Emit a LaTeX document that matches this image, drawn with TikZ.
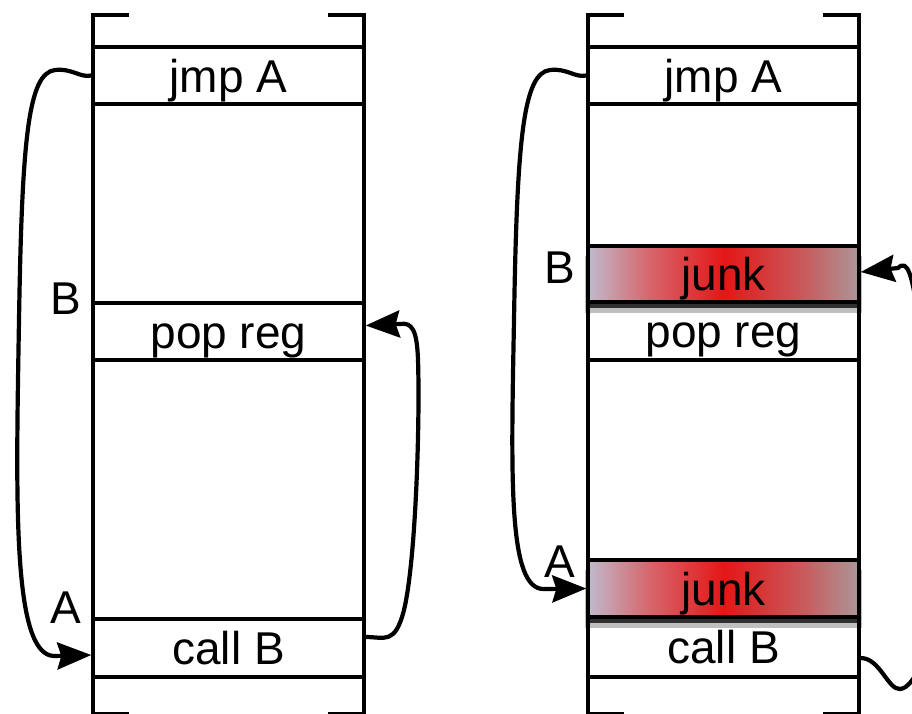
\documentclass[tikz,border=0pt]{standalone}
\usepackage{fontspec}
\setmainfont{Liberation Sans}
\usetikzlibrary{arrows.meta,shadows}
\definecolor{jL}{RGB}{192,186,204}
\definecolor{jA}{RGB}{214,104,110}
\definecolor{jC}{RGB}{228,22,22}
\definecolor{jB}{RGB}{202,86,88}
\definecolor{jR}{RGB}{172,150,152}
\pgfdeclarehorizontalshading{junkshade}{100bp}{color(0bp)=(jL); color(25bp)=(jL); color(36bp)=(jA); color(50bp)=(jC); color(64bp)=(jB); color(75bp)=(jR); color(100bp)=(jR)}
\begin{document}
\begin{tikzpicture}[x=1pt,y=-1pt,
  stackline/.style={line width=3.4pt,line cap=rect},
  cell/.style={draw,line width=3.4pt,minimum width=271pt,inner sep=0pt,
    text height=33pt,text depth=0pt,font=\fontsize{46}{52}\selectfont},
  junkbox/.style={cell,shading=junkshade,
    general shadow={shadow xshift=0pt,shadow yshift=-10pt,shadow scale=1.02,opacity=0.25,fill=black},
    general shadow={shadow xshift=0pt,shadow yshift=-6pt,opacity=0.75,fill=black}},
  lab/.style={inner sep=0pt,font=\fontsize{46}{52}\selectfont},
  arr/.style={line width=4.2pt,line join=round,
    -{Stealth[length=34pt,width=27pt,inset=4pt]}},
  wire/.style={line width=4.2pt,line join=round}]
\useasboundingbox (0,0) rectangle (912,713);

% ---------- left stack ----------
\draw[stackline] (127,15) -- (93,15) -- (93,716);
\draw[stackline] (330,15) -- (364,15) -- (364,716);
\draw[stackline] (93,714) -- (127,714) (330,714) -- (364,714);
\node[cell,minimum height=57pt] (Lj) at (228.5,75.5) {jmp A};
\node[cell,minimum height=57pt] (Lp) at (228.5,331.5) {pop reg};
\node[cell,minimum height=58pt] (Lc) at (228.5,648) {call B};
\node[lab] (LB) at (66,299) {B};
\node[lab] (LA) at (66,608) {A};

% ---------- right stack ----------
\draw[stackline] (622,15) -- (588,15) -- (588,716);
\draw[stackline] (825,15) -- (859,15) -- (859,716);
\draw[stackline] (588,714) -- (622,714) (825,714) -- (859,714);
\node[cell,minimum height=57pt] (Rj) at (723.5,75.5) {jmp A};
\node[cell,minimum height=58pt] (Rp) at (723.5,331) {pop reg};
\node[cell,minimum height=60pt] (Rc) at (723.5,647) {call B};
\node[junkbox,minimum height=56pt] (Rjb) at (723.5,274) {junk};
\node[junkbox,minimum height=57pt] (Rja) at (723.5,588.5) {junk};
\node[lab] (RB) at (560,268) {B};
\node[lab] (RA) at (560,562) {A};

% ---------- connectors ----------
\draw[arr] (Lj.west) .. controls (80,78) and (72,68) .. (55,70)
  .. controls (28,73) and (22,140) .. (19,320)
  .. controls (16,500) and (12,655) .. (54,656) -- ([yshift=-7pt]Lc.west);
\draw[arr] ([yshift=11pt]Lc.east) .. controls (385,637) and (395,645) .. (404,610)
  .. controls (416,560) and (420,420) .. (418,360)
  .. controls (417,330) and (412,322) .. (400,324) -- ([yshift=6pt]Lp.east);

\draw[arr] (Rj.west) .. controls (575,78) and (567,68) .. (550,70)
  .. controls (523,73) and (517,140) .. (514,320)
  .. controls (511,480) and (508,590) .. (544,589) -- (Rja.west);
\coordinate (rin) at (917,308);
\draw[arr] (rin) .. controls (912,278) and (908,258) .. (898,268) -- ([yshift=2pt]Rjb.east);
\coordinate (rout) at (918,672);
\draw[wire] ([yshift=-11pt]Rc.east) .. controls (880,658) and (888,690) .. (900,689)
  .. controls (908,688) and (912,680) .. (rout);
\end{tikzpicture}
\end{document}
